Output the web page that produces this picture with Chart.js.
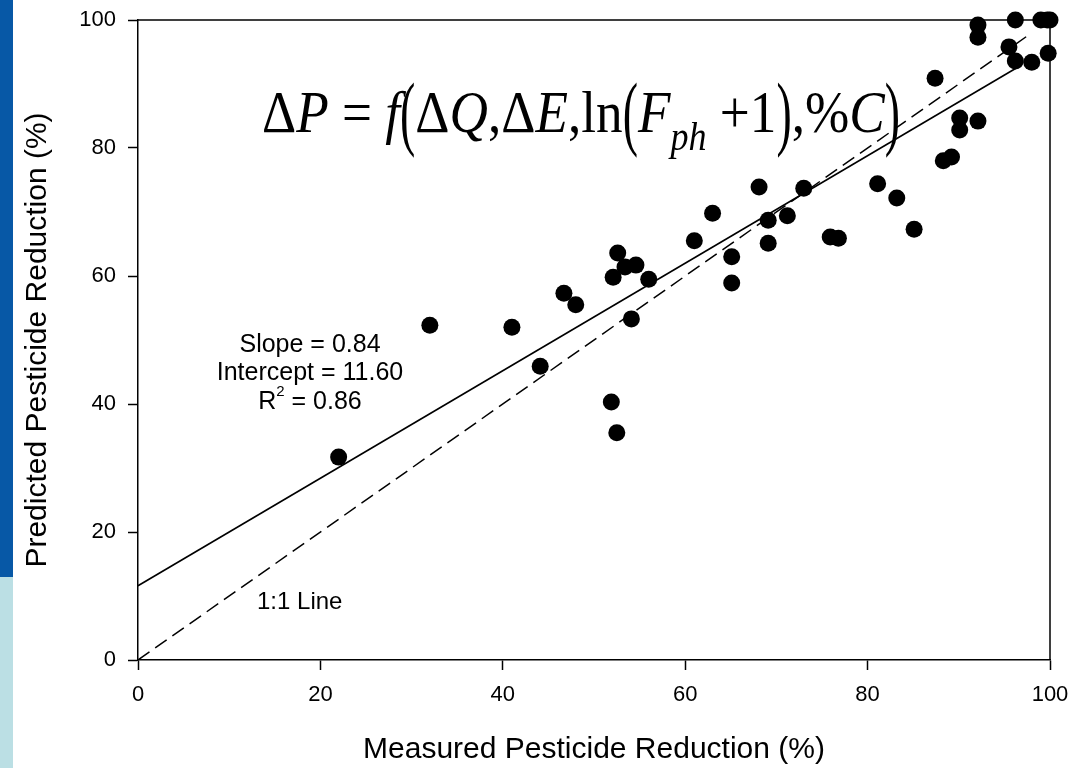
<!DOCTYPE html>
<html>
<head>
<meta charset="utf-8">
<script src="https://cdn.jsdelivr.net/npm/chart.js@4/dist/chart.umd.min.js"></script>
<style>
  body { margin: 0; background: #fff; }
  canvas { display: block; }
</style>
</head>
<body>
<canvas id="pesticideChart" width="1075" height="768"></canvas>
<script>
// measured vs predicted pesticide reduction (%)
var measured = [22.0, 32.0, 41.0, 44.1, 46.7, 48.0, 51.9, 52.5, 52.1, 52.6, 53.4, 54.6, 54.1, 56.0,
    61.0, 63.0, 65.1, 65.1, 68.1, 69.1, 69.1, 71.2, 73.0, 75.9, 76.8, 81.1, 83.2, 85.1,
    87.4, 88.3, 89.2, 90.1, 90.1, 92.1, 92.1, 92.1, 95.5, 96.2, 96.2, 98.0, 99.8, 99.0, 99.7, 100];
var predicted = [31.7, 52.3, 52.0, 45.9, 57.3, 55.5, 40.3, 35.5, 59.8, 63.6, 61.4, 61.7, 53.3, 59.5,
    65.5, 69.8, 63.0, 58.9, 73.9, 68.7, 65.1, 69.4, 73.7, 66.1, 65.9, 74.4, 72.2, 67.3,
    90.9, 78.0, 78.6, 84.7, 82.8, 84.2, 99.2, 97.3, 95.8, 93.6, 100, 93.4, 94.8, 100, 100, 100];

// regression line end points (slope 0.84, intercept 11.60) and the 1:1 line
var fitX = [0, 96.5];
var fitY = [11.6, 92.66];
var oneX = [0, 98];
var oneY = [0, 98];

var xTicks = [0, 20, 40, 60, 80, 100];
var yTicks = [0, 20, 40, 60, 80, 100];

var statsLines = ['Slope = 0.84', 'Intercept = 11.60'];
var r2Value = '0.86';

function pairs(xs, ys) {
    return xs.map(function(x, i) { return { x: x, y: ys[i] }; });
}

var sans = "'Liberation Sans', Arial, sans-serif";
var serif = "'Liberation Serif', 'Times New Roman', serif";

// side strip, frame, equation and stats text
var decorPlugin = {
    id: 'decor',
    beforeDraw: function(chart) {
        var ctx = chart.ctx;
        ctx.save();
        ctx.fillStyle = '#fff';
        ctx.fillRect(0, 0, chart.width, chart.height);
        ctx.fillStyle = '#0758a6';
        ctx.fillRect(0, 0, 13, 577);
        ctx.fillStyle = '#bbdfe4';
        ctx.fillRect(0, 577, 13, chart.height - 577);
        ctx.restore();
    },
    afterDatasetsDraw: function(chart) {
        var ctx = chart.ctx;
        var a = chart.chartArea;
        ctx.save();
        ctx.strokeStyle = '#000';
        ctx.lineWidth = 1.5;
        ctx.beginPath();
        ctx.moveTo(a.left, a.top);
        ctx.lineTo(a.right, a.top);
        ctx.lineTo(a.right, a.bottom);
        ctx.stroke();

        // stats
        ctx.fillStyle = '#000';
        ctx.font = '25px ' + sans;
        ctx.textAlign = 'center';
        ctx.textBaseline = 'middle';
        ctx.fillText(statsLines[0], 310, 345);
        ctx.fillText(statsLines[1], 310, 373);
        var rest = ' = ' + r2Value;
        ctx.textAlign = 'left';
        var wR = ctx.measureText('R').width;
        var wRest = ctx.measureText(rest).width;
        ctx.font = '15px ' + sans;
        var w2 = ctx.measureText('2').width;
        var sx = 310 - (wR + w2 + wRest) / 2;
        ctx.font = '25px ' + sans;
        ctx.fillText('R', sx, 402);
        ctx.fillText(rest, sx + wR + w2, 402);
        ctx.font = '15px ' + sans;
        ctx.fillText('2', sx + wR, 392);

        ctx.font = '24px ' + sans;
        ctx.fillText('1:1 Line', 257, 602);

        // equation
        var parts = [
            ['\u0394', 'n'], ['P', 'i'], [' = ', 'n'], ['f', 'i'], ['(', 'p'],
            ['\u0394', 'n'], ['Q', 'i'], [',', 'n'], ['\u0394', 'n'], ['E', 'i'], [',', 'n'],
            ['ln', 'n'], ['(', 'p'], ['F', 'i'], ['ph', 's'], [' +1', 'n'], [')', 'p'],
            [',', 'n'], ['%', 'n'], ['C', 'i'], [')', 'p']
        ];
        var fonts = {
            n: '59px ' + serif,
            i: 'italic 59px ' + serif,
            s: 'italic 40px ' + serif,
            p: '82px ' + serif
        };
        var pScale = 0.62;
        var widths = parts.map(function(p) {
            ctx.font = fonts[p[1]];
            var w = ctx.measureText(p[0]).width;
            return p[1] === 'p' ? w * pScale : w;
        });
        var total = widths.reduce(function(s, w) { return s + w; }, 0);
        var x0 = 262, x1 = 900;
        var k = (x1 - x0) / total;
        ctx.textBaseline = 'alphabetic';
        ctx.textAlign = 'left';
        var cx = 0;
        ctx.translate(x0, 0);
        ctx.scale(k, 1);
        parts.forEach(function(p, i) {
            ctx.font = fonts[p[1]];
            if (p[1] === 'p') {
                ctx.save();
                ctx.translate(cx, 0);
                ctx.scale(pScale, 1);
                ctx.fillText(p[0], 0, 140);
                ctx.restore();
            } else if (p[1] === 's') {
                ctx.fillText(p[0], cx, 150);
            } else {
                ctx.fillText(p[0], cx, 132);
            }
            cx += widths[i];
        });
        ctx.restore();
    }
};

function noPadding(scale) {
    scale.paddingLeft = 0;
    scale.paddingRight = 0;
    scale.paddingTop = 0;
    scale.paddingBottom = 0;
}

var ctx = document.getElementById('pesticideChart');
var chart = new Chart(ctx, {
    type: 'scatter',
    data: {
        datasets: [{
            label: 'data',
            data: pairs(measured, predicted),
            pointRadius: 8.5,
            pointBackgroundColor: '#000',
            pointBorderWidth: 0,
            clip: false,
            order: 0
        }, {
            label: 'fit',
            type: 'line',
            data: pairs(fitX, fitY),
            borderColor: '#000',
            borderWidth: 1.6,
            pointRadius: 0,
            fill: false,
            order: 1
        }, {
            label: '1:1',
            type: 'line',
            data: pairs(oneX, oneY),
            borderColor: '#000',
            borderWidth: 1.5,
            borderDash: [14, 7],
            pointRadius: 0,
            fill: false,
            order: 2
        }]
    },
    options: {
        responsive: false,
        animation: false,
        layout: {
            padding: { top: 20, right: 25, left: 0, bottom: 0 }
        },
        plugins: {
            legend: { display: false },
            tooltip: { enabled: false }
        },
        scales: {
            x: {
                type: 'linear',
                min: 0,
                max: 100,
                afterBuildTicks: function(scale) {
                    scale.ticks = xTicks.map(function(v) { return { value: v }; });
                },
                afterFit: function(scale) { scale.height = 108; noPadding(scale); },
                ticks: {
                    color: '#000',
                    font: { family: sans, size: 22 },
                    padding: 12,
                    maxRotation: 0
                },
                grid: {
                    drawOnChartArea: false,
                    tickLength: 10,
                    tickColor: '#000',
                    tickWidth: 1.5
                },
                border: { color: '#000', width: 1.5 },
                title: {
                    display: true,
                    text: 'Measured Pesticide Reduction (%)',
                    color: '#000',
                    font: { family: sans, size: 30 },
                    padding: { top: 0, bottom: 0 }
                }
            },
            y: {
                type: 'linear',
                min: 0,
                max: 100,
                afterBuildTicks: function(scale) {
                    scale.ticks = yTicks.map(function(v) { return { value: v }; });
                },
                afterFit: function(scale) { scale.width = 138; noPadding(scale); },
                ticks: {
                    color: '#000',
                    font: { family: sans, size: 22 },
                    padding: 12
                },
                grid: {
                    drawOnChartArea: false,
                    tickLength: 10,
                    tickColor: '#000',
                    tickWidth: 1.5
                },
                border: { color: '#000', width: 1.5 },
                title: {
                    display: true,
                    text: 'Predicted Pesticide Reduction (%)',
                    color: '#000',
                    font: { family: sans, size: 30 },
                    padding: { top: 20, bottom: 0 }
                }
            }
        }
    },
    plugins: [decorPlugin]
});
</script>
</body>
</html>
